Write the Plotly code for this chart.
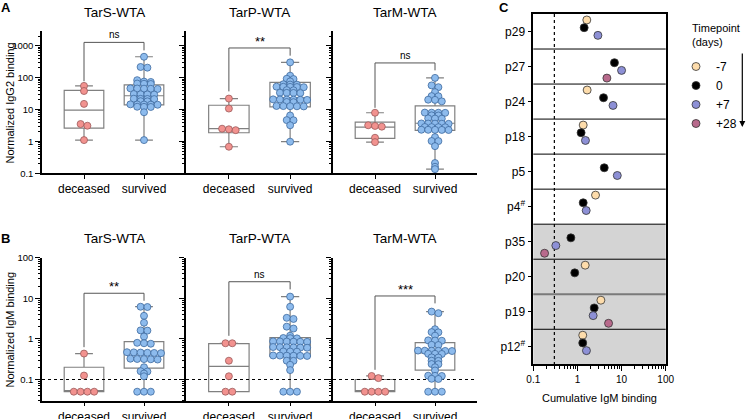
import numpy as np
import plotly.graph_objects as go

W, H = 747, 419
FONT = "Liberation Sans, Arial, Helvetica, sans-serif"

groups = ["deceased", "survived"]
antigens = ["TarS-WTA", "TarP-WTA", "TarM-WTA"]

# Panel A - normalized IgG2 binding
igg2_tars_deceased = [55, 38, 15, 3.5, 3.1, 1.1]
igg2_tars_survived = [450, 215, 205, 83, 75, 73, 65, 64, 63, 46, 45.5, 45, 44.5, 44, 30.5, 30,
                      29.7, 29.3, 21.8, 21.6, 21.4, 21.2, 18.2, 18, 14.5, 14.4, 14.3, 14.2, 14.1,
                      12.2, 12.1, 12, 8.2, 1.1]
igg2_tarp_deceased = [22, 10.7, 2.5, 2.4, 2.25, 0.68]
igg2_tarp_survived = [300, 115, 92, 90, 76, 62, 60.5, 60, 52, 51.5, 51, 50.5, 50, 40.5, 40, 33.5,
                      33.2, 33, 32.7, 20.8, 20.6, 20.5, 20.4, 20.2, 20, 17.2, 17, 12.9, 12.8,
                      12.7, 12.6, 12.5, 6.5, 4.65, 4.6, 3.2, 0.98]
igg2_tarm_deceased = [7.9, 3.2, 3.05, 2.9, 1.3, 0.95]
igg2_tarm_survived = [98, 57, 50, 35, 26.3, 26, 20.3, 20, 18, 8.0, 7.95, 7.9, 7.85, 6.55, 6.5,
                      5.25, 5.2, 5.15, 3.65, 3.62, 3.6, 3.58, 3.55, 2.83, 2.81, 2.79, 2.77, 2.32,
                      2.31, 2.3, 2.29, 2.28, 1.36, 1.03, 1.02, 0.71, 0.21, 0.16, 0.135]

# Panel B - normalized IgM binding
igm_tars_deceased = [0.435, 0.125, 0.05, 0.05, 0.05, 0.05]
igm_tars_survived = [6.2, 6.1, 3.7, 2.5, 1.62, 1.6, 1.14, 0.8, 0.78, 0.76, 0.47, 0.465, 0.46,
                     0.455, 0.45, 0.445, 0.325, 0.32, 0.318, 0.315, 0.31, 0.2, 0.16, 0.157,
                     0.14, 0.12, 0.05, 0.05, 0.05]
igm_tarp_deceased = [0.78, 0.78, 0.29, 0.12, 0.05, 0.05]
igm_tarp_survived = [11, 6.2, 3.3, 3.1, 2.0, 1.8, 1.2, 1.05, 1.04, 1.03, 0.87, 0.865, 0.86,
                     0.855, 0.85, 0.845, 0.63, 0.625, 0.62, 0.615, 0.61, 0.605, 0.49, 0.488,
                     0.485, 0.39, 0.388, 0.386, 0.384, 0.382, 0.38, 0.29, 0.288, 0.23, 0.17,
                     0.05, 0.05, 0.05]
igm_tarm_deceased = [0.122, 0.108, 0.05, 0.05, 0.05, 0.05]
igm_tarm_survived = [4.7, 4.3, 1.73, 1.47, 1.45, 1.2, 0.92, 0.91, 0.9, 0.715, 0.705, 0.515,
                     0.512, 0.51, 0.508, 0.505, 0.502, 0.43, 0.428, 0.425, 0.35, 0.348, 0.29,
                     0.288, 0.24, 0.238, 0.2, 0.167, 0.124, 0.123, 0.122, 0.104, 0.103, 0.05,
                     0.05, 0.05]

# box summaries: [min, q1, median, q3, max]
igg2_box_deceased = [[1.1, 2.6, 9.5, 40, 55], [0.68, 1.87, 2.5, 13.6, 22], [0.95, 1.24, 2.8, 4.0, 7.9]]
igg2_box_survived = [[1.1, 14, 27, 59, 450], [0.98, 12.1, 23, 71, 300], [0.135, 2.2, 3.7, 13, 98]]
igm_box_deceased = [[0.05, 0.05, 0.05, 0.2, 0.435], [0.05, 0.05, 0.21, 0.76, 0.78], [0.05, 0.05, 0.05, 0.1, 0.122]]
igm_box_survived = [[0.05, 0.19, 0.45, 0.86, 6.2], [0.05, 0.37, 0.62, 1.08, 11], [0.05, 0.17, 0.45, 0.81, 4.7]]

# significance brackets: [left leg end, bracket top, right leg end]
igg2_brackets = [[77, 1270, 713], [37, 848, 487], [11.3, 288, 169]]
igg2_sig = ["ns", "**", "ns"]
igm_brackets = [[0.625, 13.3, 8.7], [1.19, 25.6, 16.6], [0.173, 11.4, 7.5]]
igm_sig = ["**", "ns", "***"]
igm_cutoff = 0.1

# Panel C - cumulative IgM binding per patient and timepoint
patients = ["p29", "p27", "p24", "p18", "p5", "p4<sup>#</sup>", "p35", "p20", "p19", "p12<sup>#</sup>"]
timepoints = ["-7", "0", "+7", "+28"]
cum_igm_m7 = [1.63, None, 1.66, 1.35, None, 2.57, None, 1.5, 3.4, 1.32]
cum_igm_0 = [1.42, 6.9, 3.9, 1.21, 4.05, 1.35, 0.71, 0.87, 2.4, 1.32]
cum_igm_p7 = [2.91, 10, 6.4, 1.52, 8.0, 1.58, 0.324, None, 2.27, 1.6]
cum_igm_p28 = [None, 4.65, None, None, None, None, 0.18, None, 5.07, None]
cum_igm_cutoff = 0.3
n_deceased_patients = 4  # bottom rows, grey background

tp_colors = ["#fddcab", "#000000", "#8d90d6", "#b86a8c"]
tp_offsets = [-0.33, -0.11, 0.11, 0.33]

DEC_FILL, DEC_LINE = "#f2928f", "#9c5a5a"
SUR_FILL, SUR_LINE = "#8dbbed", "#3d6a9e"


def PX(x):
    return x / W


def PY(y):
    return 1 - y / H


def swarm(vals, yrange, ypx, xpx_unit, d=6.8, tol=2.2):
    # Prism-like scatter: points closer than tol px in y share a row, centred side by side
    y = (np.log10(vals) - yrange[0]) / (yrange[1] - yrange[0]) * ypx
    order = np.argsort(-y, kind="stable")
    rows = []
    for i in order:
        if rows and abs(y[rows[-1][0]] - y[i]) <= tol:
            rows[-1].append(i)
        else:
            rows.append([i])
    off = np.zeros(len(vals))
    for r in rows:
        for k, i in enumerate(r):
            off[i] = (k - (len(r) - 1) / 2) * d
    return off / xpx_unit


fig = go.Figure()

panel_x = [(42, 186), (186, 333), (333, 477)]
A_Y = (30.7, 173.3)
B_Y = (257.7, 400.7)
A_RANGE = [-1, 3.47]
B_RANGE = [np.log10(0.03), 2]
XR = [-0.7, 1.7]

igg2_data = [(igg2_tars_deceased, igg2_tars_survived), (igg2_tarp_deceased, igg2_tarp_survived),
             (igg2_tarm_deceased, igg2_tarm_survived)]
igm_data = [(igm_tars_deceased, igm_tars_survived), (igm_tarp_deceased, igm_tarp_survived),
            (igm_tarm_deceased, igm_tarm_survived)]

axes = {}


def minor_vals(lo, hi):
    out = []
    for e in range(-3, 5):
        for k in range(2, 10):
            v = k * 10.0 ** e
            if 10 ** lo <= v <= 10 ** hi:
                out.append(v)
    return out


def paper_text(x, y, text, size, xanchor="center", **kw):
    fig.add_annotation(x=PX(x), y=PY(y), xref="paper", yref="paper", text=text,
                       xanchor=xanchor, yanchor="middle", showarrow=False,
                       font=dict(size=size), **kw)


def add_panel(n, col, ybox, yrange, data, box_d, box_s, bracket, sig, cutoff=None):
    xa, ya = ("x" if n == 1 else f"x{n}"), ("y" if n == 1 else f"y{n}")
    x0, x1 = panel_x[col]
    xpx_unit = (x1 - x0) / (XR[1] - XR[0])
    ypx = ybox[1] - ybox[0]
    if cutoff is not None:
        fig.add_trace(go.Scatter(x=XR, y=[cutoff, cutoff], mode="lines", xaxis=xa, yaxis=ya,
                                 line=dict(color="black", width=1.2, dash="dot"),
                                 showlegend=False, hoverinfo="skip"))
    for g, (vals, box, fill, lc) in enumerate([(data[0], box_d, DEC_FILL, DEC_LINE),
                                                (data[1], box_s, SUR_FILL, SUR_LINE)]):
        fig.add_trace(go.Box(x=[g], lowerfence=[box[0]], q1=[box[1]], median=[box[2]], q3=[box[3]],
                             upperfence=[box[4]], width=0.66, whiskerwidth=0.45, boxpoints=False,
                             line=dict(color="#808080", width=1.2), fillcolor="rgba(0,0,0,0)",
                             xaxis=xa, yaxis=ya, showlegend=False, hoverinfo="skip"))
        vals = np.array(vals, dtype=float)
        xs = g + swarm(vals, yrange, ypx, xpx_unit)
        fig.add_trace(go.Scatter(x=xs, y=vals, mode="markers", xaxis=xa, yaxis=ya,
                                 marker=dict(size=7, color=fill, line=dict(color=lc, width=0.8)),
                                 showlegend=False, hoverinfo="skip"))
    fig.add_trace(go.Scatter(x=[0, 0, 1, 1], y=[bracket[0], bracket[1], bracket[1], bracket[2]],
                             mode="lines", xaxis=xa, yaxis=ya, line=dict(color="#555555", width=1),
                             showlegend=False, hoverinfo="skip"))
    star = sig != "ns"
    fig.add_annotation(x=0.5, y=np.log10(bracket[1]), xref=xa, yref=ya, text=sig, showarrow=False,
                       xanchor="center", yanchor="bottom", yshift=-3 if star else 0,
                       font=dict(size=13 if star else 10, color="black"))
    axes["xaxis" if n == 1 else f"xaxis{n}"] = dict(
        domain=[PX(x0), PX(x1)], anchor=ya, range=XR, tickvals=[0, 1], ticktext=groups,
        ticks="outside", ticklen=4, tickwidth=1.2, tickcolor="black", showline=True,
        linecolor="black", linewidth=1.5, showgrid=False, zeroline=False, automargin=False,
        tickfont=dict(size=12))
    major = [10.0 ** e for e in range(int(np.floor(yrange[0])), int(np.ceil(yrange[1])) + 1)
             if yrange[0] - 1e-9 <= e <= yrange[1] + 1e-9]
    labels = [("%g" % v) for v in major]
    axes["yaxis" if n == 1 else f"yaxis{n}"] = dict(
        domain=[PY(ybox[1]), PY(ybox[0])], anchor=xa, type="log", range=yrange,
        tickmode="array", tickvals=major, ticktext=labels, showticklabels=(col == 0),
        ticks="outside", ticklen=5, tickwidth=1.2, tickcolor="black", showline=True,
        linecolor="black", linewidth=1.5, showgrid=False, zeroline=False, automargin=False,
        tickfont=dict(size=9.5),
        minor=dict(tickmode="array", tickvals=minor_vals(*yrange), ticks="outside",
                   ticklen=2.5, tickwidth=1, tickcolor="black", showgrid=False))


for i in range(3):
    add_panel(i + 1, i, A_Y, A_RANGE, igg2_data[i], igg2_box_deceased[i], igg2_box_survived[i],
              igg2_brackets[i], igg2_sig[i])
    add_panel(i + 4, i, B_Y, B_RANGE, igm_data[i], igm_box_deceased[i], igm_box_survived[i],
              igm_brackets[i], igm_sig[i], cutoff=igm_cutoff)

# Panel C
rows = np.arange(len(patients))
fig.add_shape(type="rect", xref="x7 domain", yref="y7", x0=0, x1=1,
              y0=len(patients) - n_deceased_patients - 0.5, y1=len(patients) - 0.5,
              fillcolor="#d4d4d4", line=dict(width=0), layer="below")
for k in range(len(patients) - 1):
    grey = k == len(patients) - 3
    fig.add_shape(type="line", xref="x7 domain", yref="y7", x0=0, x1=1, y0=k + 0.5, y1=k + 0.5,
                  line=dict(color="#7a7a7a" if grey else "black", width=2 if grey else 1))
fig.add_trace(go.Scatter(x=[cum_igm_cutoff, cum_igm_cutoff], y=[-0.5, len(patients) - 0.5],
                         mode="lines", xaxis="x7", yaxis="y7",
                         line=dict(color="black", width=1.2, dash="dot"),
                         showlegend=False, hoverinfo="skip"))
for t, (name, vals) in enumerate(zip(timepoints, [cum_igm_m7, cum_igm_0, cum_igm_p7, cum_igm_p28])):
    xs = [v for v in vals if v is not None]
    ys = [r + tp_offsets[t] for r, v in zip(rows, vals) if v is not None]
    fig.add_trace(go.Scatter(x=xs, y=ys, mode="markers", name=name, xaxis="x7", yaxis="y7",
                             marker=dict(size=8, color=tp_colors[t], line=dict(color="#333333", width=0.8)),
                             hoverinfo="skip"))

axes["xaxis7"] = dict(domain=[PX(533.3), PX(665.7)], anchor="y7", type="log", range=[-1, 2],
                      tickmode="array", tickvals=[0.1, 1, 10, 100], ticktext=["0.1", "1", "10", "100"],
                      ticks="outside", ticklen=5, tickwidth=1.2, tickcolor="black", showline=True,
                      linecolor="black", linewidth=1.5, mirror=True, showgrid=False, zeroline=False,
                      automargin=False, tickfont=dict(size=10),
                      minor=dict(tickmode="array", tickvals=minor_vals(-1, 2), ticks="outside",
                                 ticklen=2.5, tickwidth=1, tickcolor="black", showgrid=False))
axes["yaxis7"] = dict(domain=[PY(364.3), PY(14)], anchor="x7", range=[len(patients) - 0.5, -0.5],
                      tickmode="array", tickvals=list(rows), ticktext=patients, ticks="outside",
                      ticklen=4, tickwidth=1.2, tickcolor="black", showline=True, linecolor="black",
                      linewidth=1.5, mirror=True, showgrid=False, zeroline=False, automargin=False,
                      tickfont=dict(size=12))

# titles, letters, axis titles
for i, ag in enumerate(antigens):
    cx = (panel_x[i][0] + panel_x[i][1]) / 2
    paper_text(cx, 12.7, ag, 13.5)
    paper_text(cx, 238, ag, 13.5)
paper_text(9.5, 103, "Normalized IgG2 binding", 11, textangle=-90)
paper_text(9.5, 330, "Normalized IgM binding", 11, textangle=-90)
paper_text(599.5, 398, "Cumulative IgM binding", 11)
for letter, lx, ly in [("A", 5.5, 8), ("B", 5.5, 239), ("C", 504, 8)]:
    paper_text(lx, ly, "<b>%s</b>" % letter, 13)
paper_text(690, 35, "Timepoint<br>(days)", 11, xanchor="left", align="left")
fig.add_annotation(x=PX(742.3), y=PY(127), ax=0, ay=-75, text="", showarrow=True, arrowhead=2,
                   arrowsize=1, arrowwidth=1.2, arrowcolor="black", xref="paper", yref="paper")

fig.update_layout(
    width=W, height=H, margin=dict(l=0, r=0, t=0, b=0, autoexpand=False),
    paper_bgcolor="white", plot_bgcolor="white",
    font=dict(family=FONT, color="black", size=11),
    legend=dict(x=PX(676), y=PY(52), xanchor="left", yanchor="top", font=dict(size=12),
                bgcolor="rgba(0,0,0,0)", tracegroupgap=0),
    **axes,
)

# the page body has a default 8px margin; remove it so the figure sits at the window origin
fig.write_html("out.html", config={"displayModeBar": False},
               post_script="document.body.style.margin='0';")
